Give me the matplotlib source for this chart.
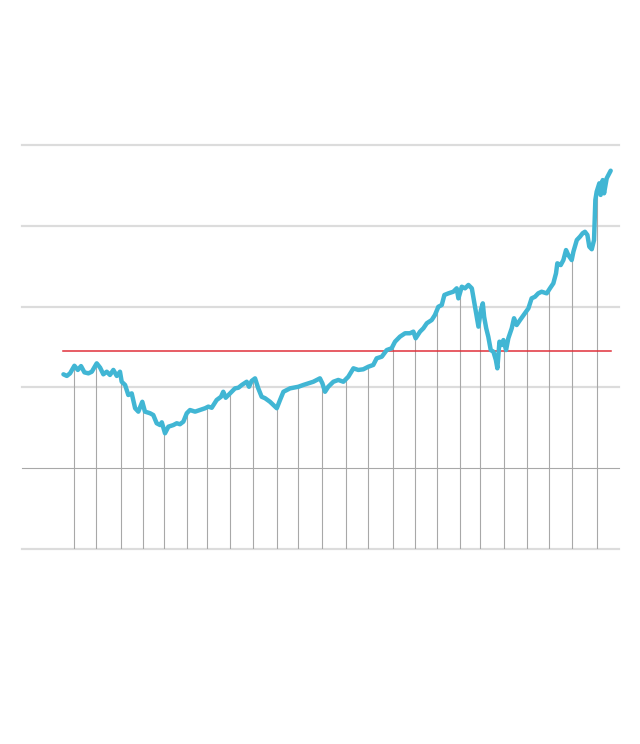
import numpy as np
import matplotlib
matplotlib.use("Agg")
import matplotlib.pyplot as plt

# observation index (months from start) and series values
obs = [0.2, 2.0, 3.7, 6.0, 7.8, 9.5, 11.3, 13.4, 15.2, 17.8, 19.6, 21.3, 23.1, 24.8, 26.6, 28.4,
       30.1, 31.0, 32.8, 34.5, 36.3, 38.1, 39.8, 41.9, 43.3, 46.0, 47.7, 49.5, 51.3, 52.2, 53.9,
       55.7, 58.3, 60.1, 61.8, 63.6, 65.4, 67.1, 69.8, 72.4, 75.1, 76.8, 78.6, 81.2, 83.5, 84.7,
       86.0, 88.3, 90.9, 92.7, 94.5, 97.1, 98.3, 99.7, 101.5, 103.2, 105.0, 106.8, 109.4, 112.1,
       113.0, 114.7, 116.5, 118.3, 120.0, 121.7, 124.4, 127.0, 129.7, 132.3, 135.8, 137.1, 138.5,
       140.2, 142.9, 145.5, 148.2, 150.8, 153.5, 156.1, 158.7, 161.4, 164.0, 165.8, 168.5, 171.1,
       173.7, 175.5, 178.1, 180.8, 183.4, 185.2, 186.4, 188.7, 190.5, 192.3, 194.9, 196.6, 198.4,
       200.2, 201.6, 203.7, 206.3, 208.1, 209.0, 210.8, 212.5, 214.3, 216.1, 217.8, 218.7, 219.6,
       220.9, 221.9, 222.6, 223.7, 224.8, 226.1, 227.5, 228.8, 229.6, 230.7, 231.9, 232.8, 234.2,
       235.4, 237.2, 238.4, 239.8, 241.6, 244.2, 246.0, 247.7, 249.5, 251.2, 253.0, 255.7, 257.4,
       259.2, 260.6, 261.3, 263.1, 264.5, 265.9, 267.1, 268.9, 269.8, 271.6, 273.3, 274.7, 275.9,
       277.2, 278.2, 279.5, 280.7, 281.4, 282.1, 283.5, 284.2, 285.3, 286.0, 287.4, 288.8, 289.5]
values = [108.1, 107.1, 108.7, 113.4, 110.8, 113.2, 109.3, 108.7, 109.7, 114.9, 112.2, 108.1, 109.7,
          107.7, 110.8, 107.1, 109.7, 103.5, 101.5, 95.3, 96.3, 87.1, 85.0, 91.1, 85.0, 84.0, 82.9,
          77.8, 76.7, 78.4, 71.6, 75.7, 76.7, 77.8, 77.2, 78.8, 84.0, 86.0, 85.0, 86.0, 87.1, 88.1,
          87.4, 92.2, 94.2, 97.3, 93.6, 96.3, 99.4, 99.8, 101.5, 103.5, 100.4, 104.0, 105.6, 99.4,
          94.2, 93.3, 91.1, 88.1, 87.1, 92.2, 97.3, 98.4, 99.4, 99.8, 100.4, 101.5, 102.5, 103.5,
          105.6, 102.5, 97.3, 100.4, 103.5, 104.6, 103.5, 106.6, 111.8, 110.8, 111.2, 112.8, 113.9,
          118.0, 119.0, 123.1, 124.2, 128.3, 131.4, 133.5, 133.5, 134.5, 130.4, 134.5, 136.6, 139.7,
          141.7, 144.8, 149.9, 151.0, 157.2, 158.2, 159.2, 161.3, 155.1, 162.3, 161.3, 163.4, 161.3,
          149.9, 143.7, 137.6, 147.9, 152.0, 143.7, 136.6, 131.4, 123.1, 122.1, 117.0, 111.8, 128.3,
          126.2, 129.3, 123.1, 130.4, 136.6, 142.8, 138.6, 141.7, 145.9, 148.9, 155.1, 156.1, 158.2,
          159.2, 158.2, 161.3, 164.4, 170.6, 176.8, 175.7, 178.8, 185.0, 181.9, 178.8, 184.0, 191.2,
          193.3, 195.4, 196.3, 194.3, 187.1, 185.5, 191.2, 216.0, 221.1, 226.3, 219.1, 228.3, 220.1,
          229.4, 232.5, 234.1]

# year boundaries (observation index)
year_marks = [6.0, 17.2, 30.4, 42.1, 53.3, 65.4, 76.0, 88.1, 100.4, 113.1, 124.2, 136.9, 149.6,
              161.3, 174.5, 186.0, 197.9, 210.0, 220.5, 233.1, 245.4, 257.0, 269.3, 282.3]

reference_level = 122.5
grid_values = [0, 50, 100, 150, 200, 250]

fig = plt.figure(figsize=(6.4, 7.44), dpi=100)
ax = fig.add_axes([22 / 640, (744 - 549) / 744, 597 / 640, 404 / 744])
ax.set_xlim(-21.7, 293.9)
ax.set_ylim(0, 250)
ax.axis("off")

for g in grid_values:
    if g == 50:
        ax.axhline(g, color="#a8a8a8", lw=0.8, zorder=1, clip_on=False)
    else:
        ax.axhline(g, color="#dcdcdc", lw=1.6, zorder=1, clip_on=False)

drop_tops = np.interp(year_marks, obs, values)
ax.vlines(year_marks, 0, drop_tops, color="#a8a8a8", lw=0.8, zorder=2)

ax.plot([obs[0], obs[-1]], [reference_level, reference_level], color="#e0303a", lw=1.1, zorder=3)
ax.plot(obs, values, color="#41b6d4", lw=3.2, solid_joinstyle="round",
        solid_capstyle="round", zorder=4, clip_on=False)

fig.savefig("out.png", dpi=100, facecolor="white")
